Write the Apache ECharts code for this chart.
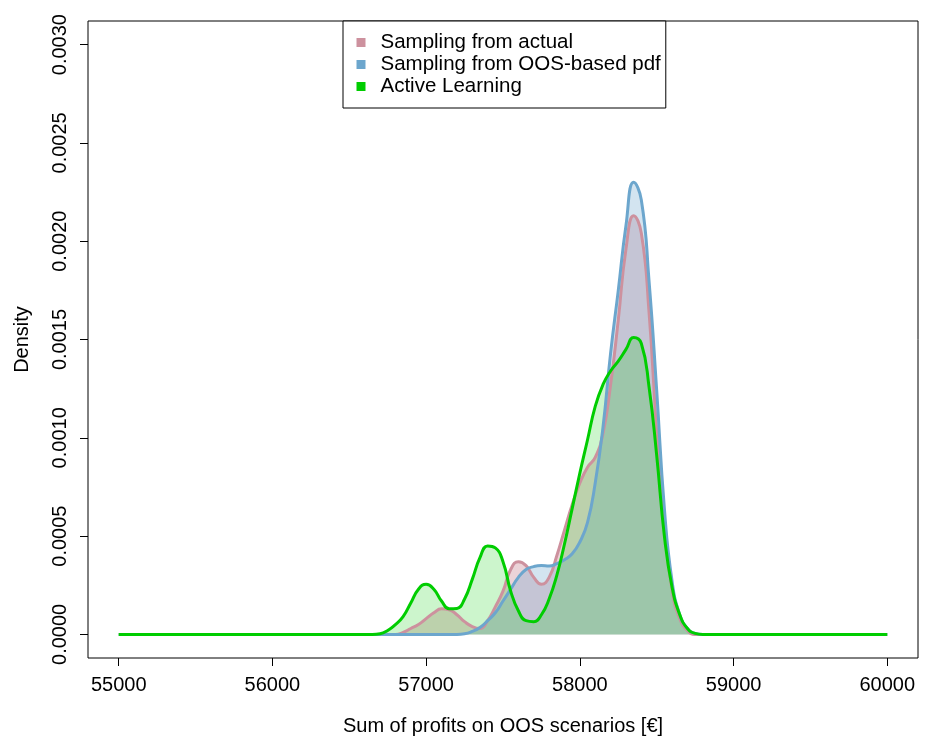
<!DOCTYPE html>
<html>
<head>
<meta charset="utf-8">
<script src="https://cdn.jsdelivr.net/npm/echarts@6.0.0/dist/echarts.min.js"></script>
<style>
html, body { margin: 0; padding: 0; background: #fff; }
#main { width: 940px; height: 737px; }
</style>
</head>
<body>
<div id="main"></div>
<script>
// profit grid (x) and the three density curves
var profits = [55000, 56650, 56700, 56750, 56800, 56850, 56900, 56950, 57000, 57050,
	57100, 57150, 57200, 57250, 57300, 57350, 57400, 57450, 57500, 57550,
	57600, 57650, 57700, 57750, 57800, 57850, 57900, 57950, 58000, 58050,
	58100, 58150, 58200, 58250, 58300, 58350, 58400, 58450, 58500, 58550,
	58600, 58650, 58700, 58750, 58800, 60000];
var densActual = [0, 0, 0, 0, 0, 0.00001, 0.00003, 0.00005, 0.00008, 0.00011,
	0.00013, 0.000125, 0.0001, 0.000065, 0.00004, 0.00003, 0.00007, 0.00014, 0.00022, 0.00033,
	0.00037, 0.00035, 0.00029, 0.000255, 0.00029, 0.0004, 0.00053, 0.00066, 0.00077, 0.00085,
	0.0009, 0.00102, 0.00127, 0.0016, 0.00196, 0.00213, 0.00204, 0.00164, 0.00103, 0.00055,
	0.000225, 0.00008, 0.00002, 0, 0, 0];
var densOos = [0, 0, 0, 0, 0, 0, 0, 0, 0, 0,
	0, 0, 0, 0.000003, 0.000015, 0.000035, 0.00007, 0.00011, 0.00017, 0.00023,
	0.00029, 0.00033, 0.000345, 0.00035, 0.000348, 0.00036, 0.00038, 0.00041, 0.00047, 0.00057,
	0.00077, 0.00105, 0.00143, 0.00175, 0.00208, 0.0023, 0.00221, 0.0018, 0.00124, 0.00064,
	0.00027, 0.0001, 0.00003, 0.000005, 0, 0];
var densActive = [0, 0, 0.000003, 0.00002, 0.00005, 0.00009, 0.00016, 0.00023, 0.000255, 0.00023,
	0.00017, 0.00013, 0.000132, 0.00018, 0.00028, 0.00039, 0.00045, 0.00044, 0.00037, 0.00022,
	0.00012, 0.00007, 0.000065, 0.0001, 0.00018, 0.0003, 0.00046, 0.00064, 0.00082, 0.00099,
	0.00116, 0.00127, 0.00134, 0.00139, 0.00145, 0.00151, 0.00148, 0.00126, 0.00091, 0.0005,
	0.00024, 0.0001, 0.00003, 0.000005, 0, 0];
var seriesNames = ['Sampling from actual', 'Sampling from OOS-based pdf', 'Active Learning'];
var xTicks = [55000, 60000, 1000];
var yTicks = [0, 0.003, 0.0005];

var FONT = 'Liberation Sans, Arial, sans-serif';

function pairs(ys) {
	var out = [];
	for (var i = 0; i < profits.length; i++) {
		out.push([profits[i], ys[i]]);
	}
	return out;
}

function densSeries(name, ys, line, fill) {
	return {
		name: name,
		type: 'line',
		xAxisIndex: 0,
		yAxisIndex: 0,
		data: pairs(ys),
		smooth: 0.5,
		showSymbol: false,
		silent: true,
		itemStyle: { color: line },
		lineStyle: { color: line, width: 3 },
		areaStyle: { color: fill, opacity: 1, origin: 0 }
	};
}

var myChart = echarts.init(document.getElementById('main'), null, { renderer: 'canvas' });
var option = {
	animation: false,
	backgroundColor: '#fff',
	textStyle: { fontFamily: FONT, color: '#000' },
	legend: {
		data: seriesNames,
		orient: 'vertical',
		left: 343,
		top: 21,
		padding: [11, 5, 11, 13.5],
		itemGap: 1,
		itemWidth: 29,
		itemHeight: 9,
		icon: 'path://M0,0H10V10H0Z',
		borderColor: '#000',
		borderWidth: 1,
		borderRadius: 0,
		backgroundColor: '#fff',
		itemStyle: { borderWidth: 0 },
		textStyle: { fontFamily: FONT, fontSize: 20.5, color: '#000' }
	},
	grid: [{
		// plot box, holds the data
		left: 88, right: 22, top: 21, bottom: 79,
		outerBoundsMode: 'none',
		show: true, borderColor: '#000', borderWidth: 1
	}, {
		// tick region, 55000..60000 x 0..0.003
		left: 118.7, right: 52.7, top: 44.6, bottom: 102.6,
		outerBoundsMode: 'none',
		show: false
	}],
	xAxis: [{
		type: 'value', gridIndex: 0, min: 54800, max: 60200, show: false
	}, {
		type: 'value', gridIndex: 1,
		min: xTicks[0], max: xTicks[1], interval: xTicks[2],
		offset: 23.6,
		name: 'Sum of profits on OOS scenarios [€]',
		nameLocation: 'middle',
		nameGap: 58,
		nameTextStyle: { fontFamily: FONT, fontSize: 20, color: '#000' },
		axisLine: { show: false, onZero: false },
		axisTick: { show: true, length: 8, lineStyle: { color: '#000', width: 1 } },
		splitLine: { show: false },
		axisLabel: {
			fontFamily: FONT, fontSize: 20, color: '#000', margin: 17,
			formatter: function (v) { return String(v); }
		}
	}],
	yAxis: [{
		type: 'value', gridIndex: 0, min: -0.00012, max: 0.00312, show: false
	}, {
		type: 'value', gridIndex: 1,
		min: yTicks[0], max: yTicks[1], interval: yTicks[2],
		offset: 30.7,
		name: 'Density',
		nameLocation: 'middle',
		nameRotate: 90,
		nameGap: 56,
		nameTextStyle: { fontFamily: FONT, fontSize: 20, color: '#000' },
		axisLine: { show: false, onZero: false },
		axisTick: { show: true, length: 8, lineStyle: { color: '#000', width: 1 } },
		splitLine: { show: false },
		axisLabel: {
			fontFamily: FONT, fontSize: 20, color: '#000', rotate: 90, margin: 18,
			formatter: function (v) { return v.toFixed(4); }
		}
	}],
	series: [
		densSeries(seriesNames[0], densActual, '#CD919E', 'rgba(205,145,158,0.4)'),
		densSeries(seriesNames[1], densOos, '#6CA6CD', 'rgba(108,166,205,0.3)'),
		densSeries(seriesNames[2], densActive, '#00CD00', 'rgba(0,205,0,0.2)')
	]
};
myChart.setOption(option);
</script>
</body>
</html>
